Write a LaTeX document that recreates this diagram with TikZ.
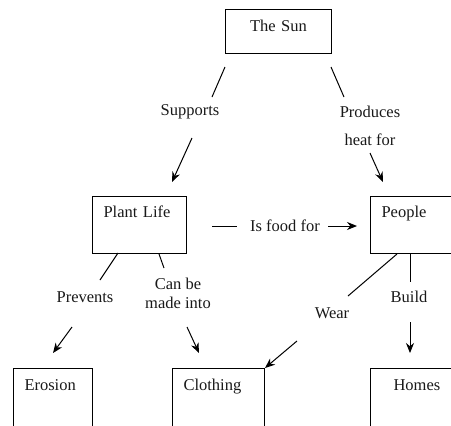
\documentclass[tikz,border=0pt]{standalone}
\usepackage{fontspec}
\setmainfont{Liberation Serif}
\usetikzlibrary{arrows.meta}

\begin{document}
\begin{tikzpicture}[x=1pt, y=-1pt, line width=1pt,
  every node/.style={font=\fontsize{16.5}{19.5}\selectfont, text=black!90},
  box/.style={draw, anchor=north west, inner ysep=0pt, inner xsep=11pt, align=left},
  lbl/.style={inner sep=1pt, align=center},
  arr/.style={-{Stealth[length=10pt,width=8pt]}}]
\clip (0,0) rectangle (451,426);

% boxes
\node[box, align=center, text width=84pt, text height=22pt, text depth=22pt] (sun) at (225,9) {The Sun};
\node[box, text width=72pt, text height=21pt, text depth=36pt] (plant) at (92,196) {Plant Life};
\node[box, text width=62pt, text height=21pt, text depth=36pt] (people) at (370,196) {People};
\node[box, text width=57pt, text height=22pt, text depth=37pt] (erosion) at (13,368) {Erosion};
\node[box, text width=70pt, text height=22pt, text depth=37pt] (clothing) at (172,368) {Clothing};
\node[box, text width=62pt, text height=22pt, text depth=37pt] (homes) at (370,368) {\hspace*{12pt}Homes};

% link labels
\node[lbl] (supports) at (190,112) {Supports};
\node[lbl] (produces) at (370,126) {Produces\\[8pt]heat for};
\node[lbl] (food) at (285,226) {Is food for};
\node[lbl] (prevents) at (85,297) {Prevents};
\node[lbl] (madeinto) at (178,293.5) {Can be\\made into};
\node[lbl] (wear) at (332,313) {Wear};
\node[lbl] (build) at (409,297) {Build};

% free ends of the links
\coordinate (s1) at (225,67);  \coordinate (s2) at (212,97);
\coordinate (s3) at (192,138); \coordinate (s4) at (172,182);
\coordinate (p1) at (331,67);  \coordinate (p2) at (344,97);
\coordinate (p3) at (370,153); \coordinate (p4) at (383,182);
\coordinate (f1) at (212,226); \coordinate (f2) at (237,226);
\coordinate (f3) at (328,226); \coordinate (f4) at (357,226);
\coordinate (e1) at (118,253); \coordinate (e2) at (100,280);
\coordinate (e3) at (72,327);  \coordinate (e4) at (53,353);
\coordinate (c1) at (159,254); \coordinate (c2) at (164,268);
\coordinate (c3) at (187,327); \coordinate (c4) at (199,353);
\coordinate (w1) at (397,254); \coordinate (w2) at (348,296);
\coordinate (w3) at (297,341); \coordinate (w4) at (265,368);
\coordinate (b1) at (410,254); \coordinate (b2) at (410,282);
\coordinate (b3) at (410,322); \coordinate (b4) at (410,353);

% links
\draw (s1) -- (s2);  \draw[arr] (s3) -- (s4);
\draw (p1) -- (p2);  \draw[arr] (p3) -- (p4);
\draw (f1) -- (f2);  \draw[arr] (f3) -- (f4);
\draw (e1) -- (e2);  \draw[arr] (e3) -- (e4);
\draw (c1) -- (c2);  \draw[arr] (c3) -- (c4);
\draw (w1) -- (w2);  \draw[arr] (w3) -- (w4);
\draw (b1) -- (b2);  \draw[arr] (b3) -- (b4);
\end{tikzpicture}
\end{document}
